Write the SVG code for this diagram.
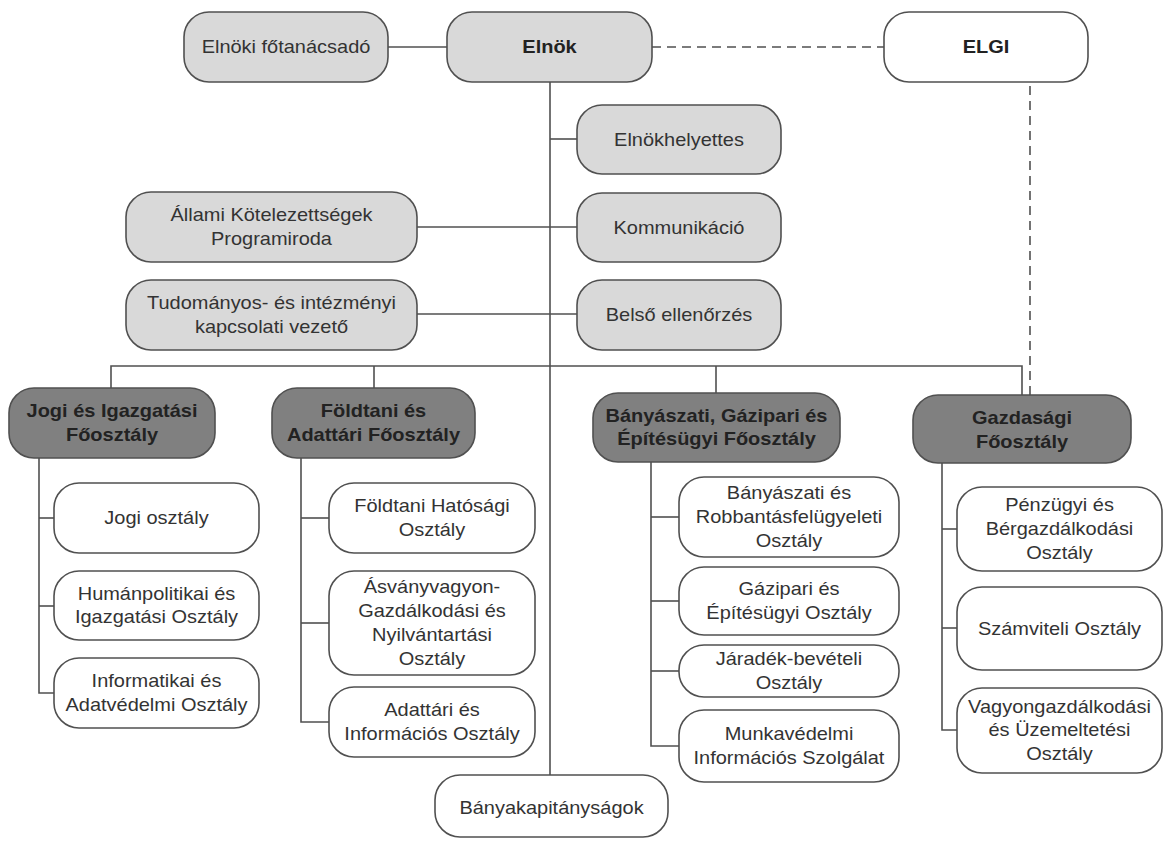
<svg xmlns="http://www.w3.org/2000/svg" width="1164" height="841" viewBox="0 0 1164 841">
<style>
.box{stroke:#505050;stroke-width:1.6}
.lt{fill:#d9d9d9}
.dk{fill:#808080}
.wh{fill:#ffffff}
.ln{stroke:#505050;stroke-width:1.6;fill:none}
.ds{stroke:#505050;stroke-width:1.6;fill:none;stroke-dasharray:9 6}
text{font-family:"Liberation Sans",Arial,sans-serif;font-size:18px;fill:#333;text-anchor:middle}
.b{font-weight:bold;fill:#222}
</style>
<rect width="1164" height="841" fill="#ffffff"/>
<g id="connectors">
<line class="ln" x1="388" y1="47" x2="447" y2="47"/>
<line class="ds" x1="652" y1="47" x2="884" y2="47"/>
<line class="ds" x1="1030" y1="86" x2="1030" y2="395"/>
<line class="ln" x1="550" y1="82" x2="550" y2="775"/>
<line class="ln" x1="550" y1="139" x2="577" y2="139"/>
<line class="ln" x1="417" y1="227" x2="577" y2="227"/>
<line class="ln" x1="417" y1="314" x2="577" y2="314"/>
<polyline class="ln" points="111,388 111,366 1022,366 1022,395"/>
<line class="ln" x1="374" y1="366" x2="374" y2="388"/>
<line class="ln" x1="716" y1="366" x2="716" y2="393"/>
<polyline class="ln" points="39,458 39,693 54,693"/>
<line class="ln" x1="39" y1="518" x2="54" y2="518"/>
<line class="ln" x1="39" y1="606" x2="54" y2="606"/>
<polyline class="ln" points="301,458 301,722 329,722"/>
<line class="ln" x1="301" y1="518" x2="329" y2="518"/>
<line class="ln" x1="301" y1="623" x2="329" y2="623"/>
<polyline class="ln" points="651,462 651,746 679,746"/>
<line class="ln" x1="651" y1="517" x2="679" y2="517"/>
<line class="ln" x1="651" y1="601" x2="679" y2="601"/>
<line class="ln" x1="651" y1="671" x2="679" y2="671"/>
<polyline class="ln" points="942,463 942,730 957,730"/>
<line class="ln" x1="942" y1="529" x2="957" y2="529"/>
<line class="ln" x1="942" y1="628" x2="957" y2="628"/>
</g>
<g id="n-elnoki-fotanacsado"><rect class="box lt" x="184" y="12" width="204" height="70" rx="25"/><text transform="translate(286 53) scale(1.11 1)">Elnöki főtanácsadó</text></g>
<g id="n-elnok"><rect class="box lt" x="447" y="12" width="205" height="70" rx="25"/><text class="b" transform="translate(549.5 53) scale(1.11 1)">Elnök</text></g>
<g id="n-elgi"><rect class="box wh" x="884" y="12" width="204" height="70" rx="25"/><text class="b" transform="translate(986 53) scale(1.11 1)">ELGI</text></g>
<g id="n-elnokhelyettes"><rect class="box lt" x="577" y="105" width="204" height="69" rx="25"/><text transform="translate(679 145.5) scale(1.11 1)">Elnökhelyettes</text></g>
<g id="n-kommunikacio"><rect class="box lt" x="577" y="193" width="204" height="69" rx="25"/><text transform="translate(679 233.5) scale(1.11 1)">Kommunikáció</text></g>
<g id="n-belso-ellenorzes"><rect class="box lt" x="577" y="280" width="204" height="70" rx="25"/><text transform="translate(679 321) scale(1.11 1)">Belső ellenőrzés</text></g>
<g id="n-allami"><rect class="box lt" x="126" y="192" width="291" height="70" rx="25"/><text transform="translate(271.5 221) scale(1.11 1)"><tspan x="0" y="0">Állami Kötelezettségek</tspan><tspan x="0" y="24">Programiroda</tspan></text></g>
<g id="n-tudomanyos"><rect class="box lt" x="126" y="280" width="291" height="70" rx="25"/><text transform="translate(271.5 309) scale(1.11 1)"><tspan x="0" y="0">Tudományos- és intézményi</tspan><tspan x="0" y="24">kapcsolati vezető</tspan></text></g>
<g id="n-jogi-fo"><rect class="box dk" x="9" y="388" width="206" height="70" rx="25"/><text class="b" transform="translate(112 417) scale(1.11 1)"><tspan x="0" y="0">Jogi és Igazgatási</tspan><tspan x="0" y="24">Főosztály</tspan></text></g>
<g id="n-foldtani-fo"><rect class="box dk" x="272" y="388" width="203" height="70" rx="25"/><text class="b" transform="translate(373.5 417) scale(1.11 1)"><tspan x="0" y="0">Földtani és</tspan><tspan x="0" y="24">Adattári Főosztály</tspan></text></g>
<g id="n-banyaszati-fo"><rect class="box dk" x="593" y="393" width="247" height="69" rx="25"/><text class="b" transform="translate(716.5 421.5) scale(1.11 1)"><tspan x="0" y="0">Bányászati, Gázipari és</tspan><tspan x="0" y="24">Építésügyi Főosztály</tspan></text></g>
<g id="n-gazdasagi-fo"><rect class="box dk" x="913" y="395" width="218" height="68" rx="25"/><text class="b" transform="translate(1022 424) scale(1.11 1)"><tspan x="0" y="0">Gazdasági</tspan><tspan x="0" y="24">Főosztály</tspan></text></g>
<g id="n-jogi-osztaly"><rect class="box wh" x="54" y="483" width="205" height="70" rx="25"/><text transform="translate(156.5 524) scale(1.11 1)">Jogi osztály</text></g>
<g id="n-humanpolitikai"><rect class="box wh" x="54" y="571" width="205" height="69" rx="25"/><text transform="translate(156.5 599.5) scale(1.11 1)"><tspan x="0" y="0">Humánpolitikai és</tspan><tspan x="0" y="24">Igazgatási Osztály</tspan></text></g>
<g id="n-informatikai"><rect class="box wh" x="54" y="658" width="205" height="70" rx="25"/><text transform="translate(156.5 687) scale(1.11 1)"><tspan x="0" y="0">Informatikai és</tspan><tspan x="0" y="24">Adatvédelmi Osztály</tspan></text></g>
<g id="n-foldtani-hatosagi"><rect class="box wh" x="329" y="483" width="206" height="70" rx="25"/><text transform="translate(432 512) scale(1.11 1)"><tspan x="0" y="0">Földtani Hatósági</tspan><tspan x="0" y="24">Osztály</tspan></text></g>
<g id="n-asvanyvagyon"><rect class="box wh" x="329" y="571" width="206" height="104" rx="25"/><text transform="translate(432 593) scale(1.11 1)"><tspan x="0" y="0">Ásványvagyon-</tspan><tspan x="0" y="24">Gazdálkodási és</tspan><tspan x="0" y="48">Nyilvántartási</tspan><tspan x="0" y="72">Osztály</tspan></text></g>
<g id="n-adattari"><rect class="box wh" x="329" y="687" width="206" height="70" rx="25"/><text transform="translate(432 716) scale(1.11 1)"><tspan x="0" y="0">Adattári és</tspan><tspan x="0" y="24">Információs Osztály</tspan></text></g>
<g id="n-banyaszati-robbantas"><rect class="box wh" x="679" y="477" width="220" height="80" rx="25"/><text transform="translate(789 499) scale(1.11 1)"><tspan x="0" y="0">Bányászati és</tspan><tspan x="0" y="24">Robbantásfelügyeleti</tspan><tspan x="0" y="48">Osztály</tspan></text></g>
<g id="n-gazipari"><rect class="box wh" x="679" y="567" width="220" height="68" rx="25"/><text transform="translate(789 595) scale(1.11 1)"><tspan x="0" y="0">Gázipari és</tspan><tspan x="0" y="24">Építésügyi Osztály</tspan></text></g>
<g id="n-jaradek"><rect class="box wh" x="679" y="645" width="220" height="52" rx="25"/><text transform="translate(789 665) scale(1.11 1)"><tspan x="0" y="0">Járadék-bevételi</tspan><tspan x="0" y="24">Osztály</tspan></text></g>
<g id="n-munkavedelmi"><rect class="box wh" x="679" y="710" width="220" height="72" rx="25"/><text transform="translate(789 740) scale(1.11 1)"><tspan x="0" y="0">Munkavédelmi</tspan><tspan x="0" y="24">Információs Szolgálat</tspan></text></g>
<g id="n-penzugyi"><rect class="box wh" x="957" y="487" width="205" height="84" rx="25"/><text transform="translate(1059.5 511) scale(1.11 1)"><tspan x="0" y="0">Pénzügyi és</tspan><tspan x="0" y="24">Bérgazdálkodási</tspan><tspan x="0" y="48">Osztály</tspan></text></g>
<g id="n-szamviteli"><rect class="box wh" x="957" y="587" width="205" height="83" rx="25"/><text transform="translate(1059.5 634.5) scale(1.11 1)">Számviteli Osztály</text></g>
<g id="n-vagyongazdalkodasi"><rect class="box wh" x="957" y="688" width="205" height="85" rx="25"/><text transform="translate(1059.5 712.5) scale(1.11 1)"><tspan x="0" y="0">Vagyongazdálkodási</tspan><tspan x="0" y="24">és Üzemeltetési</tspan><tspan x="0" y="48">Osztály</tspan></text></g>
<g id="n-banyakapitanysagok"><rect class="box wh" x="435" y="775" width="233" height="62" rx="25"/><text transform="translate(551.5 814) scale(1.11 1)">Bányakapitányságok</text></g>
</svg>
